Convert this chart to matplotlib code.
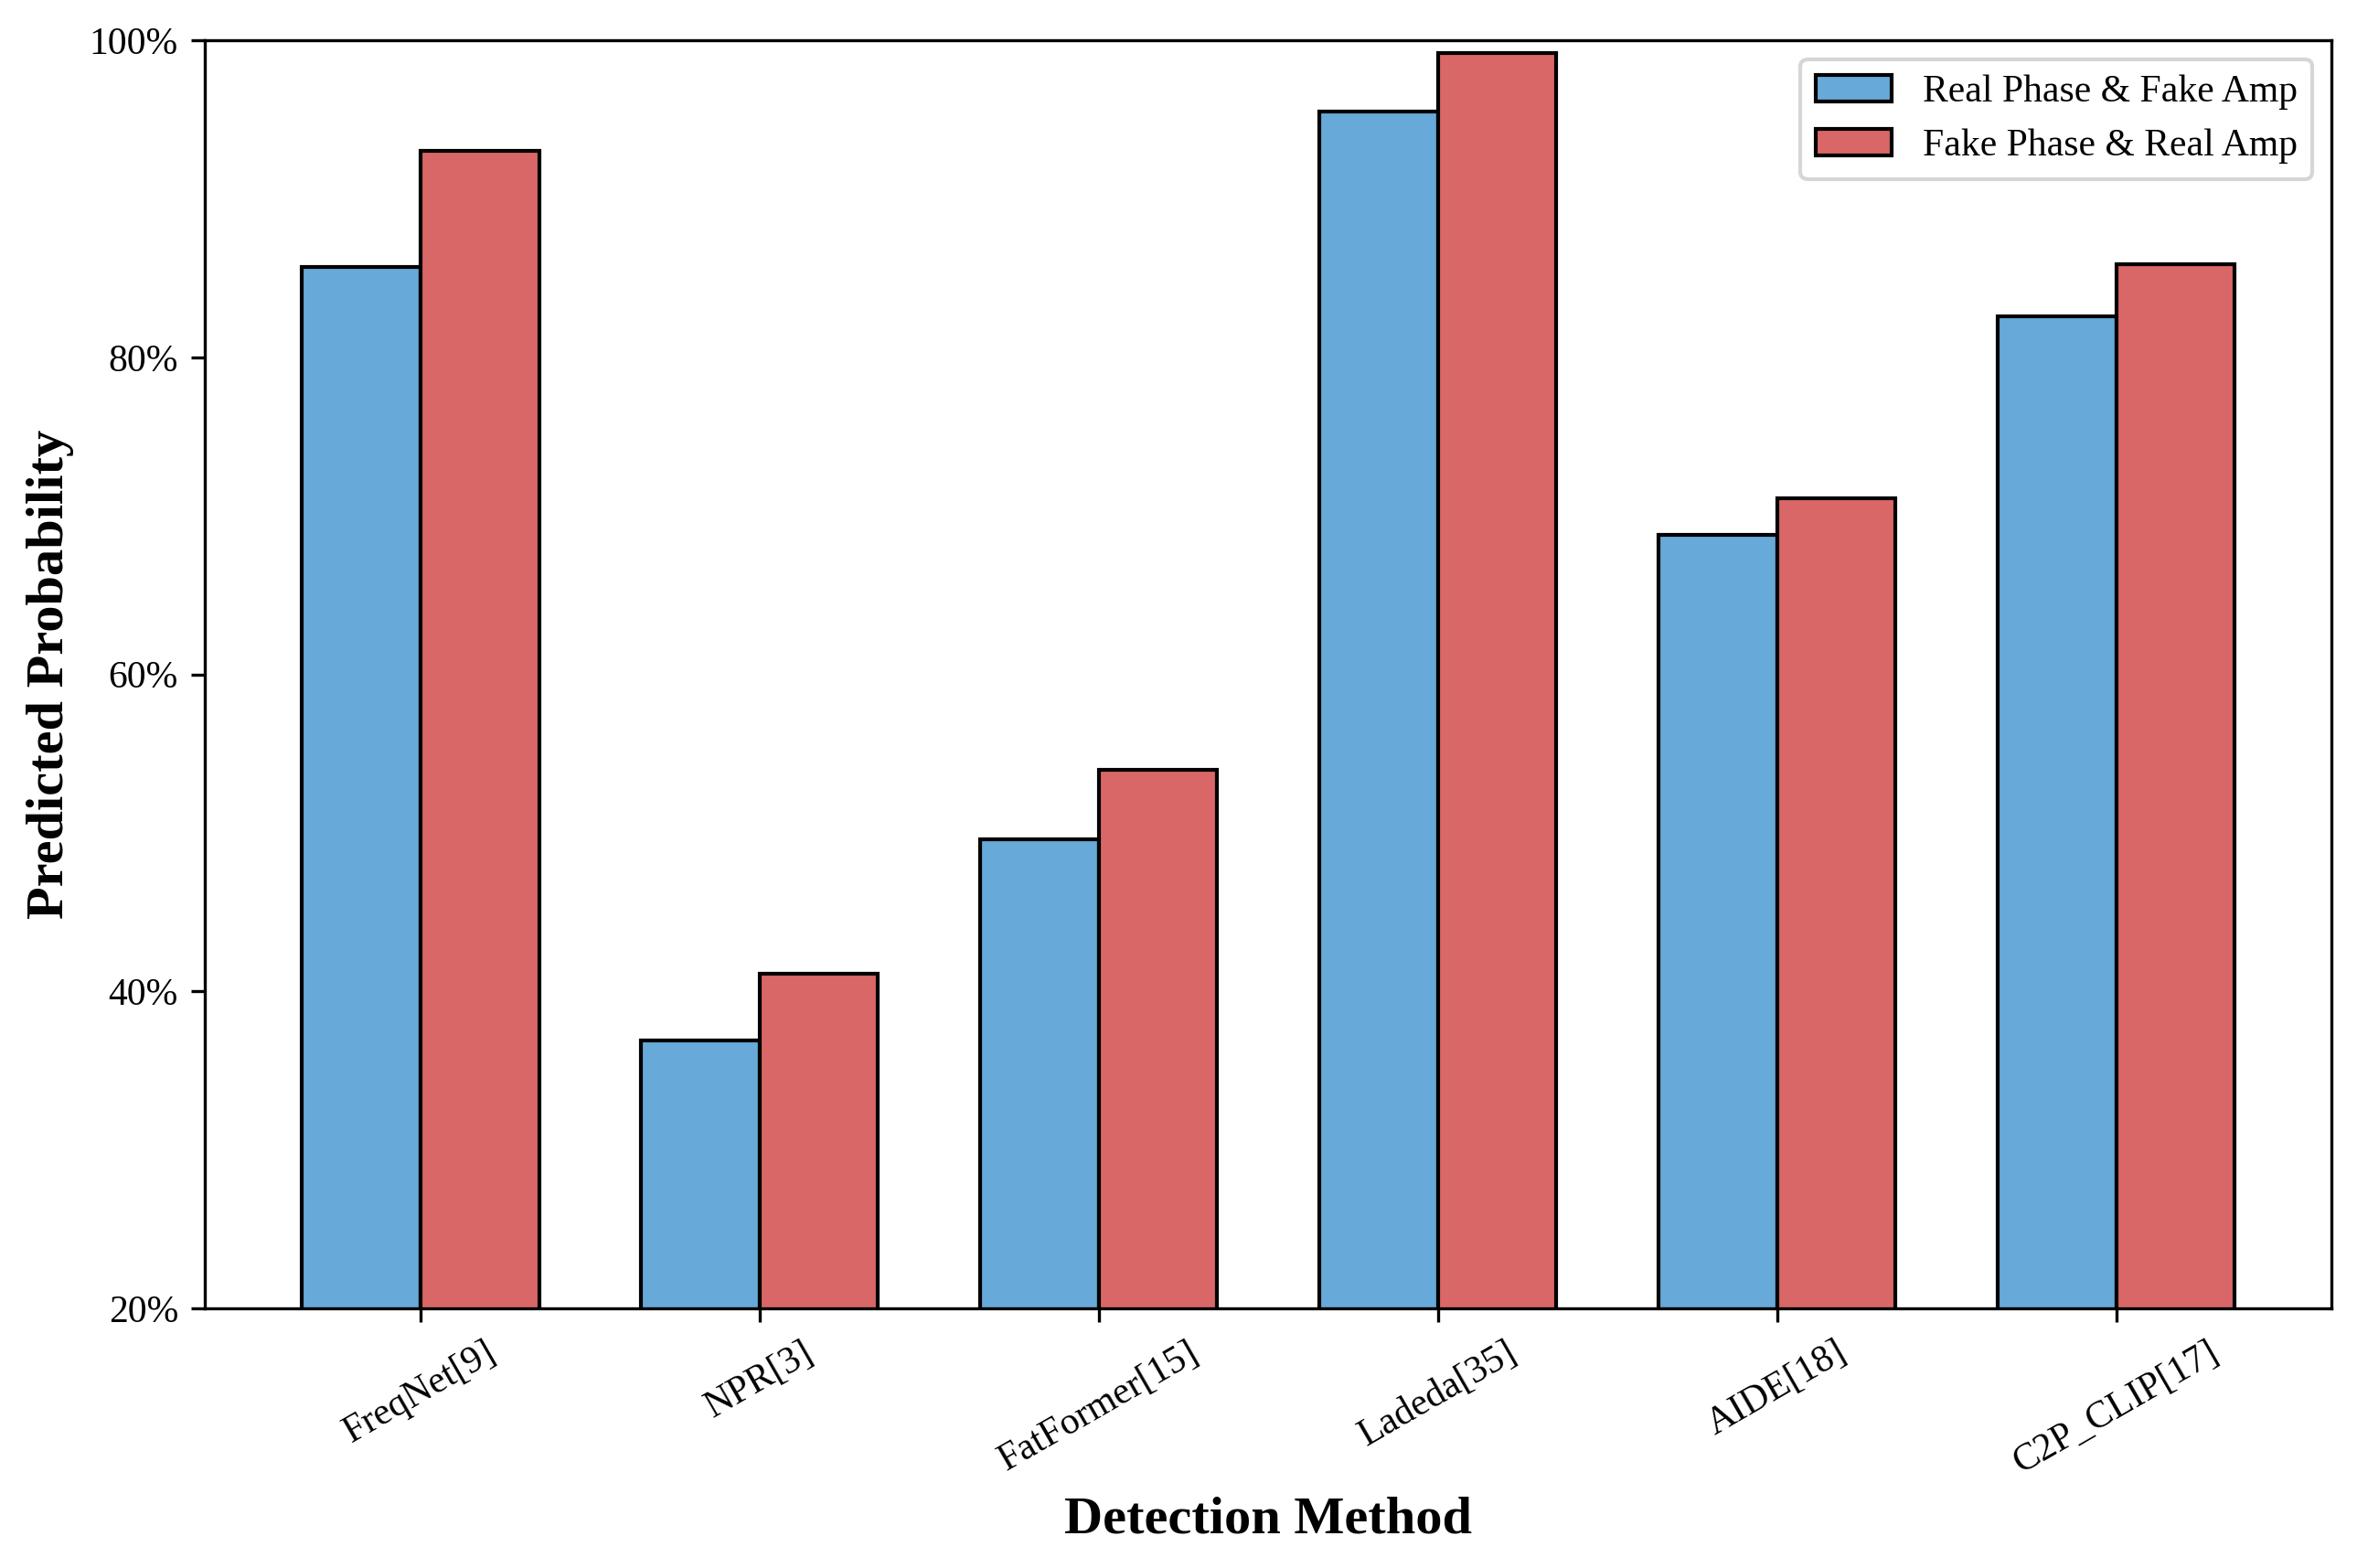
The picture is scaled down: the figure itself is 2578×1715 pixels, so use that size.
import numpy as np
import matplotlib
matplotlib.use("Agg")
import matplotlib.pyplot as plt
from matplotlib.ticker import PercentFormatter

# values (percent)
methods = ["FreqNet[9]", "NPR[3]", "FatFormer[15]", "Ladeda[35]", "AIDE[18]", "C2P_CLIP[17]"]
real_phase_fake_amp = [85.7, 36.9, 49.6, 95.5, 68.8, 82.6]
fake_phase_real_amp = [93.0, 41.1, 54.0, 99.2, 71.1, 85.9]
series_labels = ["Real Phase & Fake Amp", "Fake Phase & Real Amp"]

plt.rcParams["font.family"] = ["Liberation Serif", "DejaVu Serif"]

fig, ax = plt.subplots(figsize=(2579 / 300, 1715 / 300), dpi=300)
fig.subplots_adjust(left=0.0869, right=0.9888, bottom=0.1656, top=0.9743)

x = np.arange(len(methods))
width = 0.35
ax.bar(x - width / 2, real_phase_fake_amp, width, color="#67A9D8",
       edgecolor="black", linewidth=1.0, label=series_labels[0])
ax.bar(x + width / 2, fake_phase_real_amp, width, color="#D96767",
       edgecolor="black", linewidth=1.0, label=series_labels[1])

ax.set_ylim(20, 100)
ax.set_yticks([20, 40, 60, 80, 100])
ax.yaxis.set_major_formatter(PercentFormatter(xmax=100, decimals=0))
ax.set_xticks(x)
ax.set_xticklabels(methods, rotation=30)
ax.tick_params(labelsize=10)

ax.set_xlabel("Detection Method", fontsize=14, fontweight="bold")
ax.set_ylabel("Predicted Probability", fontsize=14, fontweight="bold")
ax.legend(loc="upper right", fontsize=10)

plt.savefig("out.png", dpi=300)
plt.close()
